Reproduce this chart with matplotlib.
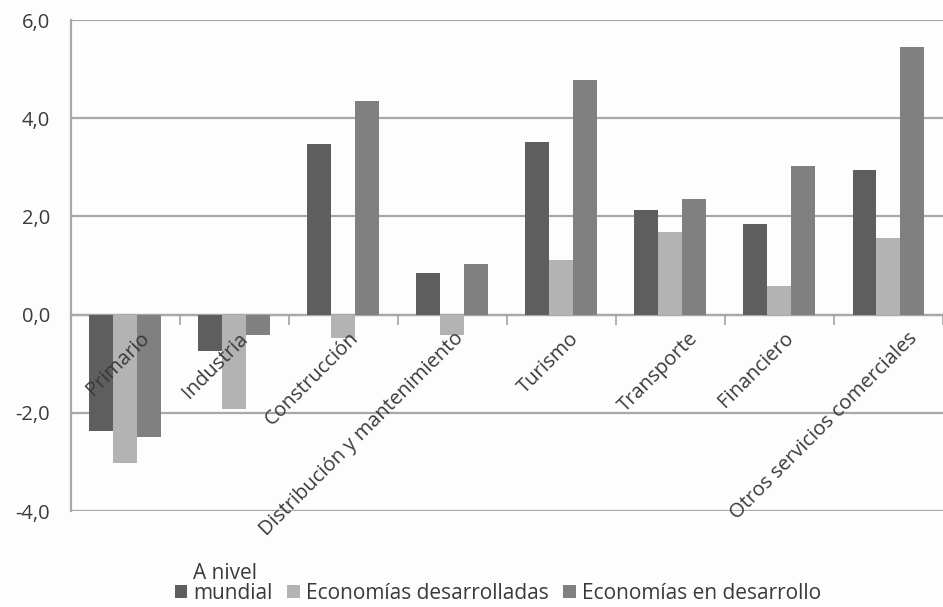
import matplotlib
matplotlib.use("Agg")
import matplotlib.pyplot as plt
from matplotlib.offsetbox import TextArea
import numpy as np

categories = ["Primario", "Industria", "Construcción", "Distribución y mantenimiento",
              "Turismo", "Transporte", "Financiero", "Otros servicios comerciales"]
series_names = ["A nivel\nmundial", "Economías desarrolladas", "Economías en desarrollo"]
mundial = [-2.37, -0.75, 3.48, 0.84, 3.52, 2.14, 1.85, 2.95]
desarrolladas = [-3.03, -1.93, -0.48, -0.41, 1.12, 1.69, 0.59, 1.57]
en_desarrollo = [-2.49, -0.42, 4.35, 1.04, 4.78, 2.36, 3.03, 5.45]
yticks = [-4.0, -2.0, 0.0, 2.0, 4.0, 6.0]
ytick_labels = ["-4,0", "-2,0", "0,0", "2,0", "4,0", "6,0"]

# small horizontal nudges (points) for the rotated category labels
label_nudge = [6, -1, 0, -3, 1.5, 9, -1, 10]

colors = ["#5e5e5e", "#b3b3b3", "#808080"]
text_color = "#3a3a3a"
plt.rcParams['font.family'] = ['Open Sans', 'DejaVu Sans']

fig = plt.figure(figsize=(9.43, 6.07), dpi=100)
fig.patch.set_facecolor("#fdfdfd")
ax = fig.add_axes([0.075, 0.158, 0.925, 0.809])
ax.set_facecolor("#fdfdfd")

x = np.arange(len(categories))
w = 0.22
for i, (vals, name) in enumerate(zip([mundial, desarrolladas, en_desarrollo], series_names)):
    ax.bar(x + (i - 1) * w, vals, width=w, color=colors[i], label=name, zorder=3)

ax.set_xlim(-0.5, len(categories) - 0.5)
ax.set_ylim(-4, 6)
ax.set_yticks(yticks)
ax.set_yticklabels(ytick_labels, fontsize=14.5, color=text_color)
ax.yaxis.grid(True, color="#a8a8a8", linewidth=1.6, zorder=0)
ax.set_axisbelow(True)
ax.tick_params(axis="y", length=0, pad=15)

for s in ["top", "right"]:
    ax.spines[s].set_visible(False)
ax.spines["left"].set_color("#a8a8a8")
ax.spines["left"].set_linewidth(1.6)
ax.spines["bottom"].set_position(("data", 0))
ax.spines["bottom"].set_color("#a8a8a8")
ax.spines["bottom"].set_linewidth(1.6)

ax.set_xticks(np.arange(len(categories) + 1) - 0.5)
ax.set_xticklabels([])
ax.tick_params(axis="x", length=7, width=1.3, color="#a8a8a8", direction="out")

for xi, lab, nd in zip(x, categories, label_nudge):
    ax.annotate(lab, xy=(xi, 0), xytext=(9 + nd, -15), textcoords="offset points",
                rotation=45, rotation_mode="anchor", ha="right", va="center",
                fontsize=14.5, color=text_color, zorder=5)

leg = fig.legend(loc="lower center", bbox_to_anchor=(0.528, -0.016), ncol=3, frameon=False,
                 fontsize=15, handlelength=0.6, handleheight=0.6, handletextpad=0.3,
                 columnspacing=0.7, labelcolor=text_color, borderaxespad=0.2)
for t in leg.get_texts():
    t.set_linespacing(0.95)
# align legend squares with the last line of multi-line labels
for ta in leg.findobj(TextArea):
    ta._multilinebaseline = False

fig.savefig("out.png", dpi=100, facecolor=fig.get_facecolor())
